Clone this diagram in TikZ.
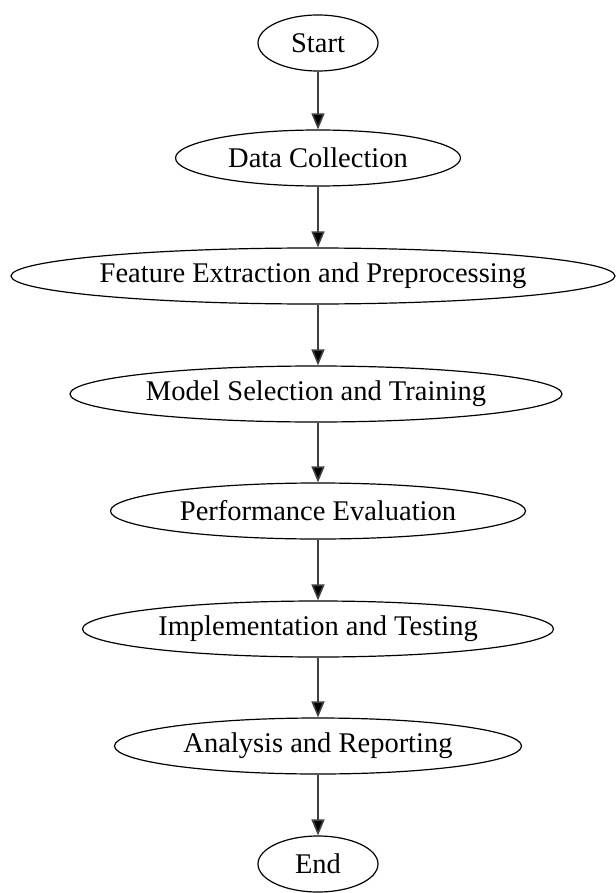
\documentclass[tikz,border=0pt]{standalone}
\usepackage{fontspec}
\setmainfont{Liberation Serif}
\usetikzlibrary{shapes.geometric}
\usetikzlibrary{arrows.meta}

\begin{document}
\begin{tikzpicture}[x=1pt, y=1pt,
    stage/.style={draw, ellipse, line width=1.2pt, inner sep=0pt,
        minimum height=56pt, font=\fontsize{28.5}{34}\selectfont},
    flow/.style={draw=black!75, line width=1.6pt,
        -{Triangle[length=16pt, width=13pt, fill=black]}}]
    \useasboundingbox (0,0) rectangle (615,-893);
    \node[stage, minimum width=120pt] (start) at (318,-43) {Start};
    \node[stage, minimum width=285pt] (data) at (318,-158) {Data Collection};
    \node[stage, minimum width=604pt] (feat) at (313,-276) {Feature Extraction and Preprocessing};
    \node[stage, minimum width=492pt] (model) at (316,-394) {Model Selection and Training};
    \node[stage, minimum width=415pt] (perf) at (318,-511) {Performance Evaluation};
    \node[stage, minimum width=471pt] (impl) at (318,-629) {Implementation and Testing};
    \node[stage, minimum width=407pt] (anal) at (318,-746) {Analysis and Reporting};
    \node[stage, minimum width=120pt] (end) at (318,-864) {End};
    \draw[flow] (start) -- (data);
    \draw[flow] (data) -- (feat.north -| data);
    \draw[flow] (feat.south -| data) -- (model.north -| data);
    \draw[flow] (model.south -| data) -- (perf);
    \draw[flow] (perf) -- (impl);
    \draw[flow] (impl) -- (anal);
    \draw[flow] (anal) -- (end);
\end{tikzpicture}
\end{document}
